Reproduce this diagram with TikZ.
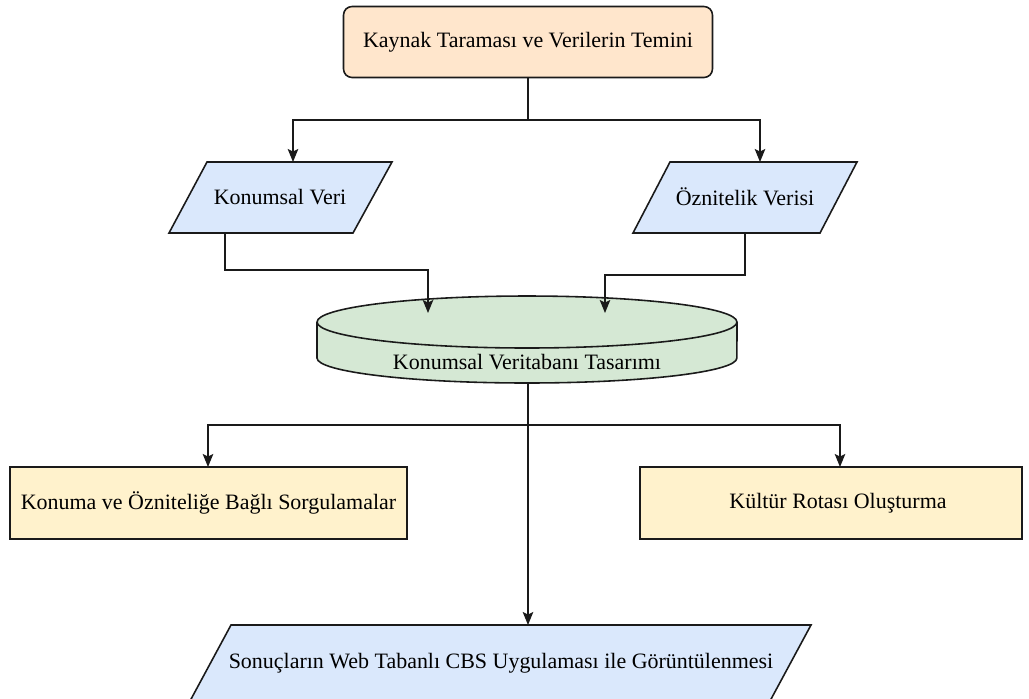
\documentclass[tikz,border=0pt]{standalone}
\usepackage{fontspec}
\setmainfont{Liberation Serif}
\usetikzlibrary{arrows.meta}
\definecolor{peach}{HTML}{FFE6CC}
\definecolor{paleblue}{HTML}{DAE8FC}
\definecolor{palegreen}{HTML}{D5E8D4}
\definecolor{paleyellow}{HTML}{FFF2CC}
\definecolor{edge}{HTML}{1A1A1A}
\begin{document}
\begin{tikzpicture}[x=0.02cm,y=-0.02cm,line width=0.9pt,
  every node/.style={font=\fontsize{12.5pt}{14pt}\selectfont,text=black},
  shapeline/.style={draw=edge,line width=0.9pt},
  link/.style={draw=edge,line width=0.9pt},
  arr/.style={link,-{Stealth[length=0.26cm,width=0.21cm,inset=0.05cm]}},
  txt/.style={inner sep=0pt}]
\useasboundingbox (0,0) rectangle (1029,698);

% source review box
\node[shapeline,fill=peach,rounded corners=0.17cm,minimum width=7.38cm,minimum height=1.42cm]
  (kaynak) at (528,42) {Kaynak Taraması ve Verilerin Temini};

% spatial data (parallelogram)
\filldraw[shapeline,fill=paleblue] (207,162) -- (392,162) -- (353,233) -- (169,233) -- cycle;
\node[txt] (konumsal) at (280,197) {Konumsal Veri};
\coordinate (kv-top) at (293,162);
\coordinate (kv-bot) at (225,233);

% attribute data (parallelogram)
\filldraw[shapeline,fill=paleblue] (670,162) -- (857,162) -- (820,233) -- (633,233) -- cycle;
\node[txt] (oznitelik) at (745,197) {Öznitelik Verisi};
\coordinate (oz-top) at (760,162);
\coordinate (oz-bot) at (745,233);

% database design (cylinder)
\fill[palegreen] (317,322) -- (317,358)
  arc[start angle=180,end angle=360,x radius=4.2cm,y radius=0.5cm] -- (737,322) -- cycle;
\draw[shapeline] (317,322) -- (317,358)
  arc[start angle=180,end angle=360,x radius=4.2cm,y radius=0.5cm] -- (737,322);
\filldraw[shapeline,fill=palegreen] (527,322) ellipse[x radius=4.2cm,y radius=0.52cm];
\node[txt] (veritabani) at (527,362) {Konumsal Veritabanı Tasarımı};
\coordinate (db-in1) at (428,313);
\coordinate (db-in2) at (605,313);
\coordinate (db-bot) at (528,383);

% query box
\node[shapeline,fill=paleyellow,minimum width=7.94cm,minimum height=1.44cm]
  (sorgu) at (208.5,503) {Konuma ve Özniteliğe Bağlı Sorgulamalar};
\coordinate (sorgu-top) at (208,467);

% culture route box
\node[shapeline,fill=paleyellow,minimum width=7.64cm,minimum height=1.44cm]
  (rota) at (831,503) {};
\node[txt] (rota-text) at (838,503) {Kültür Rotası Oluşturma};
\coordinate (rota-top) at (840,467);

% web GIS results (parallelogram)
\filldraw[shapeline,fill=paleblue] (231,625) -- (811,625) -- (770,701) -- (190,701) -- cycle;
\node[txt] (sonuc) at (501,663) {Sonuçların Web Tabanlı CBS Uygulaması ile Görüntülenmesi};
\coordinate (son-top) at (528,625);

% connectors
\draw[link] (kaynak.south) -- (528,120) coordinate (split1);
\draw[arr] (split1) -| (kv-top);
\draw[arr] (split1) -| (oz-top);
\draw[arr] (kv-bot) -- (225,270) -| (db-in1);
\draw[arr] (oz-bot) -- (745,275) -| (db-in2);
\draw[link] (db-bot) -- (528,425) coordinate (split2);
\draw[arr] (split2) -| (sorgu-top);
\draw[arr] (split2) -| (rota-top);
\draw[arr] (db-bot) -- (son-top);
\end{tikzpicture}
\end{document}
